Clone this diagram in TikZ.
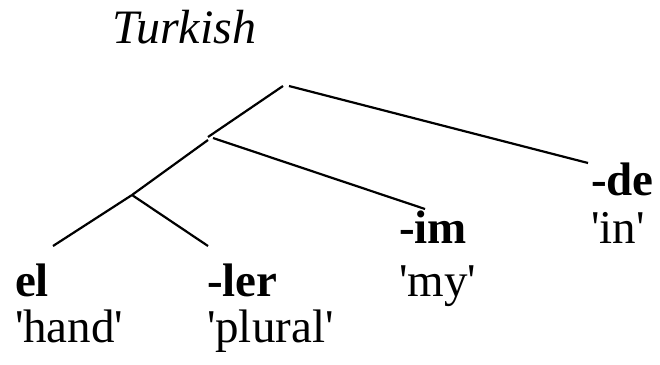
\documentclass[tikz,border=0pt]{standalone}
\usepackage{fontspec}
\setmainfont{Liberation Serif}[Ligatures=TeXOff]
\begin{document}
\begin{tikzpicture}[x=1pt,y=-1pt,
  lbl/.style={anchor=base west,inner sep=0pt,outer sep=0pt,font=\fontsize{47pt}{47pt}\selectfont},
  morph/.style={lbl,font=\fontsize{47pt}{47pt}\selectfont\bfseries},
  branch/.style={line width=2.2pt}]
\useasboundingbox (0,0) rectangle (660,364);
% title
\node[lbl,font=\fontsize{48pt}{48pt}\selectfont\itshape] (title) at (112,43) {Turkish};
% leaves
\node[morph] (el) at (15,296) {el};
\node[lbl] (hand) at (15,342) {'hand'};
\node[morph] (ler) at (207,296) {-ler};
\node[lbl] (plural) at (207,342) {'plural'};
\node[morph] (im) at (399,243) {-im};
\node[lbl] (my) at (399,296) {'my'};
\node[morph] (de) at (591,195) {-de};
\node[lbl] (in) at (591,243) {'in'};
% branching points
\coordinate (rootL) at (283,86);
\coordinate (rootR) at (289,86);
\coordinate (midA) at (208,137);
\coordinate (midB) at (208,140);
\coordinate (midC) at (213,138);
\coordinate (low) at (132,195);
% leaf tops
\coordinate (elT) at (53,246);
\coordinate (lerT) at (208,246);
\coordinate (imT) at (425,209);
\coordinate (deT) at (588,163);
% lines
\draw[branch] (rootL) -- (midA);
\draw[branch] (rootR) -- (deT);
\draw[branch] (midB) -- (low);
\draw[branch] (midC) -- (imT);
\draw[branch] (low) -- (elT);
\draw[branch] (low) -- (lerT);
\end{tikzpicture}
\end{document}
